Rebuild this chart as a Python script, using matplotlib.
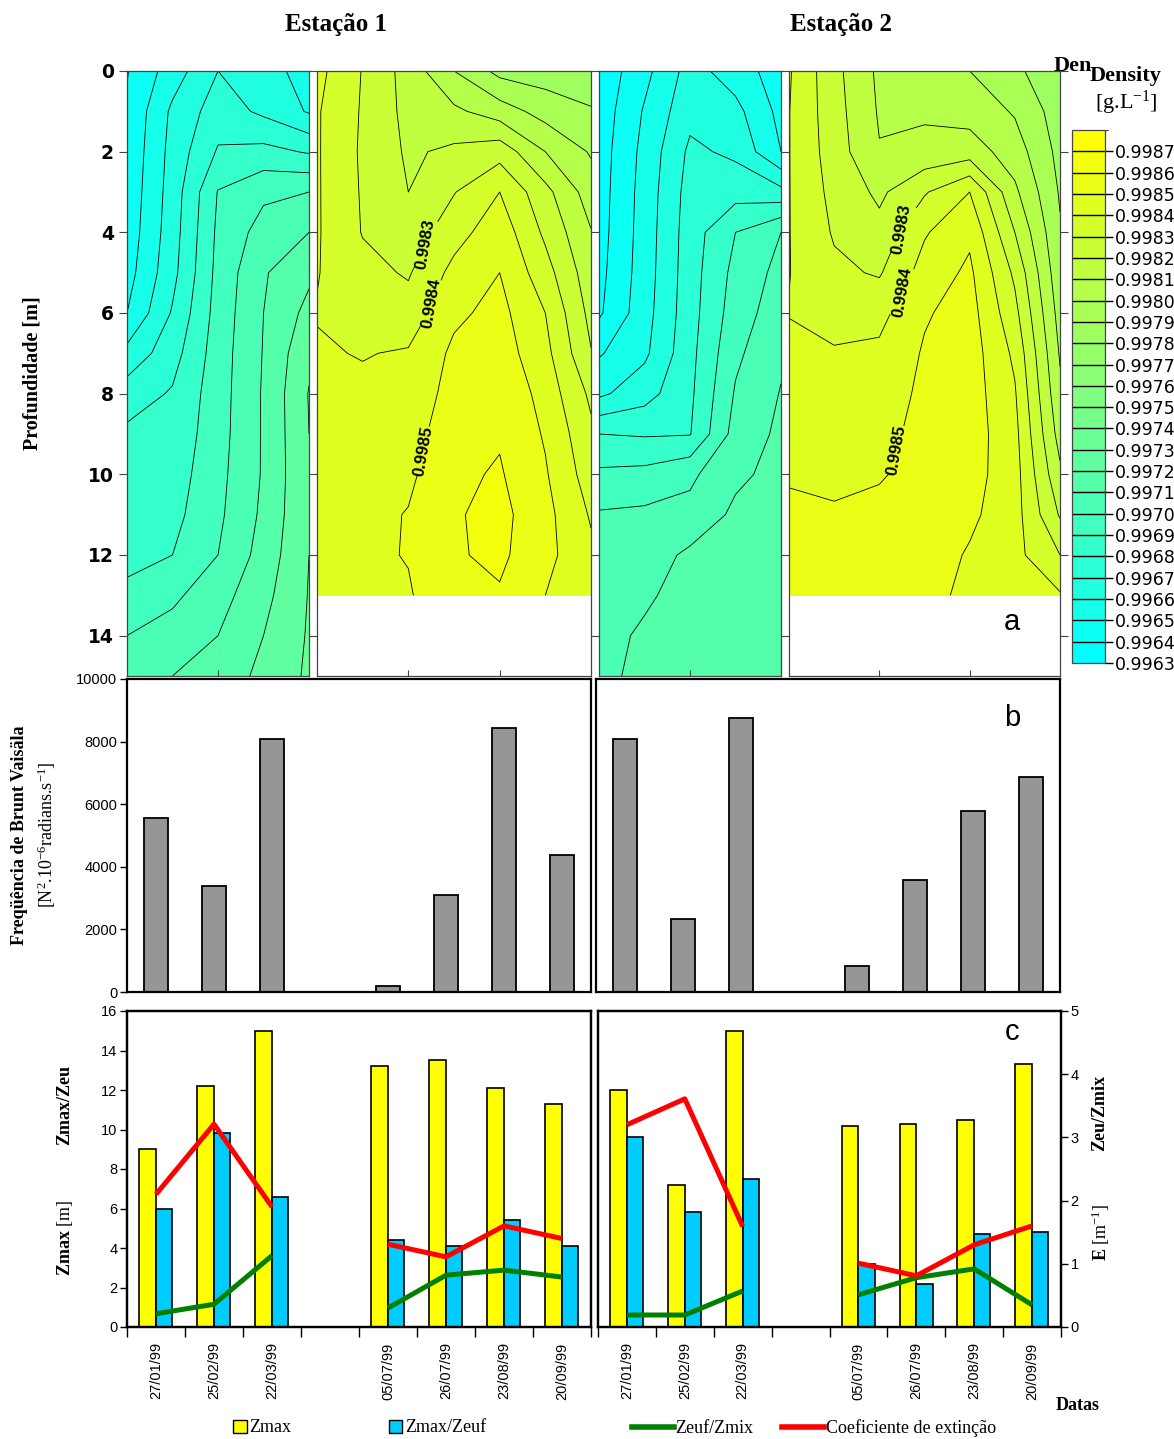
import numpy as np
import matplotlib
matplotlib.use("Agg")
import matplotlib.pyplot as plt
from matplotlib.colors import ListedColormap, BoundaryNorm
from matplotlib.cm import ScalarMappable
from matplotlib.patches import Patch
from matplotlib.lines import Line2D

plt.rcParams["font.family"] = ["Liberation Sans", "DejaVu Sans"]
plt.rcParams["mathtext.fontset"] = "custom"
plt.rcParams["mathtext.rm"] = "Liberation Serif"
plt.rcParams["mathtext.it"] = "Liberation Serif:italic"
plt.rcParams["mathtext.bf"] = "Liberation Serif:bold"
SERIF = "Liberation Serif"

# ---------------- data ----------------
dates = ["27/01/99", "25/02/99", "22/03/99", "05/07/99", "26/07/99", "23/08/99", "20/09/99"]
slots = [0, 1, 2, 4, 5, 6, 7]          # slot 3 stays empty between the two campaigns

# b) Brunt-Vaisala frequency [N^2.10^-6 radians.s^-1]
bv_e1 = [5570, 3400, 8080, 200, 3100, 8440, 4390]
bv_e2 = [8080, 2340, 8750, 840, 3590, 5790, 6870]

# c) bars on the 0-16 axis, lines on the 0-5 axis
zmax_e1 = [9.0, 12.2, 15.0, 13.2, 13.5, 12.1, 11.3]
zmax_zeuf_e1 = [6.0, 9.8, 6.6, 4.4, 4.1, 5.4, 4.1]
zeuf_zmix_e1 = [0.21, 0.36, 1.13, 0.30, 0.82, 0.90, 0.79]
extinction_e1 = [2.10, 3.21, 1.90, 1.31, 1.11, 1.60, 1.40]

zmax_e2 = [12.0, 7.2, 15.0, 10.2, 10.3, 10.5, 13.3]
zmax_zeuf_e2 = [9.6, 5.8, 7.5, 3.2, 2.2, 4.7, 4.8]
zeuf_zmix_e2 = [0.19, 0.19, 0.57, 0.51, 0.78, 0.92, 0.35]
extinction_e2 = [3.20, 3.61, 1.59, 1.01, 0.81, 1.30, 1.60]

# a) density sections, stored as (density - 0.996) * 1e4
# one list per column (sampling position in date units), values from surface down
DENS_BASE = 0.996
DENS_STEP = 1e-4
x_jan_mar = [0, 0.5, 1, 1.5, 2]
x_jul_sep = [0, 0.5, 1, 1.5, 2, 2.5, 3]
depth_jan_mar = list(range(0, 16))
depth_jul_sep = list(range(0, 14))

dens_e1_jan_mar = [
    [3.95, 4.1, 4.2, 4.3, 4.4, 4.6, 5.0, 6.3, 7.5, 8.2, 8.35, 8.5, 8.75, 9.2, 10.0, 10.4],
    [5.5, 6.2, 6.35, 6.45, 6.55, 6.7, 7.1, 7.6, 8.1, 8.3, 8.5, 8.7, 9.0, 9.8, 10.4, 11.0],
    [7.0, 7.5, 8.1, 9.05, 9.2, 9.3, 9.4, 9.5, 9.55, 9.6, 9.7, 9.8, 10.0, 10.6, 11.0, 11.3],
    [6.5, 6.8, 8.3, 9.8, 10.4, 10.9, 11.0, 11.05, 11.1, 11.1, 11.1, 11.2, 11.4, 11.7, 12.0, 12.3],
    [5.5, 5.9, 7.9, 10.0, 11.0, 11.8, 12.3, 12.8, 13.05, 13.0, 12.95, 12.95, 13.0, 13.05, 13.1, 13.15],
]
dens_e1_jul_sep = [
    [24.3, 24.1, 24.1, 24.1, 24.1, 24.05, 23.95, 24.1, 24.3, 24.4, 24.5, 24.6, 24.7, 24.7],
    [22.95, 22.9, 22.85, 22.9, 22.95, 23.3, 23.6, 23.95, 24.2, 24.3, 24.5, 24.7, 24.8, 24.8],
    [21.6, 21.7, 21.85, 22.0, 22.4, 22.9, 23.4, 24.1, 24.3, 24.5, 24.8, 25.05, 25.05, 24.9],
    [20.0, 21.2, 22.2, 22.95, 23.6, 24.3, 24.8, 25.2, 25.4, 25.7, 25.8, 25.9, 25.9, 25.8],
    [18.7, 20.5, 22.6, 24.0, 24.6, 25.0, 25.3, 25.5, 25.9, 25.9, 26.1, 26.3, 26.2, 25.9],
    [18.5, 19.6, 21.0, 22.3, 22.8, 23.4, 24.0, 24.3, 24.6, 24.9, 25.1, 25.3, 25.3, 25.0],
    [18.3, 19.1, 19.9, 20.5, 21.05, 21.4, 21.7, 22.05, 22.8, 23.2, 23.5, 23.9, 24.2, 24.3],
]
dens_e2_jan_mar = [
    [3.3, 3.4, 3.5, 3.55, 3.6, 3.7, 3.85, 4.9, 5.8, 8.0, 9.2, 10.1, 10.4, 10.5, 10.55, 10.6],
    [4.7, 5.1, 5.3, 5.4, 5.45, 5.5, 5.6, 5.8, 6.6, 7.9, 9.3, 10.2, 10.5, 10.8, 11.2, 11.4],
    [6.4, 6.7, 7.2, 7.4, 7.5, 7.55, 7.6, 7.7, 7.8, 7.95, 9.8, 10.3, 11.2, 11.5, 11.7, 11.8],
    [5.5, 6.3, 6.8, 7.6, 9.0, 9.3, 9.5, 9.8, 10.1, 10.4, 10.8, 11.2, 11.4, 11.5, 11.6, 11.7],
    [4.5, 4.7, 5.0, 7.3, 10.0, 10.3, 10.55, 10.85, 11.05, 11.2, 11.3, 11.4, 11.5, 11.6, 11.7, 11.8],
]
dens_e2_jul_sep = [
    [24.1, 24.03, 24.03, 24.03, 24.03, 24.03, 23.97, 24.2, 24.4, 24.6, 24.9, 25.2, 25.3, 25.3],
    [22.3, 22.4, 22.5, 22.7, 22.9, 23.2, 23.6, 24.1, 24.3, 24.5, 24.8, 25.1, 25.2, 25.2],
    [20.8, 20.9, 21.05, 21.8, 22.3, 22.9, 23.7, 24.2, 24.5, 24.7, 24.9, 25.3, 25.5, 25.5],
    [20.7, 20.85, 21.3, 22.9, 23.9, 24.4, 24.9, 25.1, 25.2, 25.3, 25.4, 25.5, 25.5, 25.4],
    [20.0, 20.6, 21.5, 24.0, 24.8, 25.2, 25.4, 25.5, 25.5, 25.5, 25.4, 25.2, 24.9, 24.7],
    [19.2, 19.9, 20.5, 21.2, 22.0, 22.8, 23.3, 23.8, 24.1, 24.3, 24.4, 24.4, 24.3, 24.2],
    [18.3, 18.5, 18.7, 18.9, 19.1, 19.3, 19.6, 19.9, 20.2, 20.6, 21.2, 21.9, 23.0, 24.1],
]

# ---------------- layout helpers ----------------
W, H = 1174, 1439
fig = plt.figure(figsize=(W / 100, H / 100), dpi=100)


def box(x0, y0, x1, y1):
    return [x0 / W, 1 - y1 / H, (x1 - x0) / W, (y1 - y0) / H]


def ftext(x, y, s, **kw):
    return fig.text(x / W, 1 - y / H, s, **kw)


def frame(ax, lw=1.5, color="black"):
    for sp in ax.spines.values():
        sp.set_linewidth(lw)
        sp.set_color(color)


def fmt_density(v):
    return f"{DENS_BASE + v * DENS_STEP:.4f}"


# 25 colour classes from cyan to yellow, 0.9963 .. 0.9988
levels = np.arange(3, 29)
labelled = [23, 24, 25]
band_colors = [(t, 1.0, 1.0 - t) for t in np.linspace(0, 1, len(levels) - 1)]
cmap = ListedColormap(band_colors)
norm = BoundaryNorm(levels, cmap.N)


def density_panel(rect, xs, depths, cols, inner_ticks, first=False, labels=None):
    ax = fig.add_axes(rect)
    X, Z = np.meshgrid(xs, depths)
    G = np.array(cols).T
    ax.contourf(X, Z, G, levels=levels, cmap=cmap, norm=norm)
    if labels:
        plain = [v for v in levels if v not in labelled]
        ax.contour(X, Z, G, levels=plain, colors="black", linewidths=0.6)
        cs = ax.contour(X, Z, G, levels=labelled, colors="black", linewidths=0.6)
        txt = ax.clabel(cs, manual=labels, inline=True, fmt=fmt_density,
                        fontsize=12, inline_spacing=3)
        for t in txt:
            t.set_fontweight("bold")
            t.set_rotation(80)
    else:
        ax.contour(X, Z, G, levels=levels, colors="black", linewidths=0.6)
    ax.set_xlim(xs[0], xs[-1])
    ax.set_ylim(15, 0)
    ax.set_yticks(range(0, 15, 2))
    ax.set_xticks(inner_ticks)
    ax.set_xticklabels([])
    ax.tick_params(axis="x", direction="in", length=4, color="#444444")
    ax.tick_params(axis="y", direction="out", length=6, color="#444444",
                   left=first, right=True, labelleft=first, labelright=False)
    if first:
        for lab in ax.get_yticklabels():
            lab.set_fontfamily("DejaVu Sans")
            lab.set_fontweight("bold")
            lab.set_fontsize(13.5)
    frame(ax, lw=0.9, color="#444444")
    return ax


# ---------------- a) density sections ----------------
top, bottom = 71, 676
density_panel(box(127, top, 309, bottom), x_jan_mar, depth_jan_mar, dens_e1_jan_mar, [1], first=True)
density_panel(box(317, top, 591, bottom), x_jul_sep, depth_jul_sep, dens_e1_jul_sep, [1, 2],
              labels=[(1.2, 4.3), (1.3, 5.8), (1.12, 9.4)])
density_panel(box(599, top, 781, bottom), x_jan_mar, depth_jan_mar, dens_e2_jan_mar, [1])
density_panel(box(789, top, 1060, bottom), x_jul_sep, depth_jul_sep, dens_e2_jul_sep, [1, 2],
              labels=[(1.23, 3.9), (1.28, 5.5), (1.2, 9.4)])

cax = fig.add_axes(box(1072, 130, 1105, 663))
cb = fig.colorbar(ScalarMappable(norm=norm, cmap=cmap), cax=cax, boundaries=levels,
                  ticks=levels[:-1], drawedges=True)
cb.ax.set_yticklabels([fmt_density(v) for v in levels[:-1]], fontfamily="DejaVu Sans", fontsize=12.5)
cb.ax.tick_params(length=6, width=1, pad=1)
cb.outline.set_linewidth(0.9)
cb.outline.set_edgecolor("#444444")
cb.dividers.set_linewidth(1.0)

ftext(1073, 66, "Den", fontfamily=SERIF, fontweight="bold", fontsize=16, ha="center", va="center")
ftext(1126, 76, "Density", fontfamily=SERIF, fontweight="bold", fontsize=16, ha="center", va="center")
ftext(1126, 103, "[g.L$^{-1}$]", fontfamily=SERIF, fontsize=16, ha="center", va="center")
ftext(1012, 622, "a", fontsize=21, ha="center", va="center")

ftext(336, 24, "Estação 1", fontfamily=SERIF, fontweight="bold", fontsize=18, ha="center", va="center")
ftext(841, 24, "Estação 2", fontfamily=SERIF, fontweight="bold", fontsize=18, ha="center", va="center")
ftext(33, 373, "Profundidade [m]", fontfamily=SERIF, fontweight="bold", fontsize=14.5, rotation=90,
      ha="center", va="center")

# ---------------- b) Brunt-Vaisala ----------------
pos = np.array(slots) + 0.5
for i, (rect, vals) in enumerate([(box(127, 679, 591, 992), bv_e1), (box(596, 679, 1060, 992), bv_e2)]):
    ax = fig.add_axes(rect)
    ax.bar(pos, vals, width=0.41, color="#969696", edgecolor="black", linewidth=1.3)
    ax.set_xlim(0, 8)
    ax.set_ylim(0, 10000)
    ax.set_xticks([])
    if i == 0:
        ax.set_yticks(range(0, 10001, 2000))
        ax.tick_params(axis="y", length=5, width=1, labelsize=10.5, pad=2)
    else:
        ax.set_yticks([])
    frame(ax, lw=1.6)

ftext(1012, 718, "b", fontsize=21, ha="center", va="center")
ftext(20, 835, "Freqüência de Brunt Vaisäla", fontfamily=SERIF, fontweight="bold", fontsize=13,
      rotation=90, ha="center", va="center")
ftext(47, 835, "[N$^{2}$.10$^{-6}$radians.s$^{-1}$]", fontfamily=SERIF, fontsize=13,
      rotation=90, ha="center", va="center")

# ---------------- c) Zmax, Zmax/Zeuf, Zeuf/Zmix, extinction ----------------
YELLOW = "#ffff00"
CYAN = "#00ccff"
GREEN = "#008000"
RED = "#ff0000"


def on_slots(vals):
    y = np.full(8, np.nan)
    y[slots] = vals
    return y


panel_c = [
    (box(127, 1011, 591, 1327), zmax_e1, zmax_zeuf_e1, zeuf_zmix_e1, extinction_e1),
    (box(598, 1011, 1061, 1327), zmax_e2, zmax_zeuf_e2, zeuf_zmix_e2, extinction_e2),
]
for i, (rect, zmax, ratio, zeuf_zmix, ext) in enumerate(panel_c):
    ax = fig.add_axes(rect)
    ax.bar(pos - 0.145, zmax, width=0.29, color=YELLOW, edgecolor="black", linewidth=1.2)
    ax.bar(pos + 0.14, ratio, width=0.28, color=CYAN, edgecolor="black", linewidth=1.2)
    ax.set_xlim(0, 8)
    ax.set_ylim(0, 16)
    ax.set_xticks(range(9))
    ax.set_xticklabels([])
    ax.set_xticks(pos, minor=True)
    ax.set_xticklabels(dates, minor=True, rotation=90, fontsize=10.5)
    ax.tick_params(axis="x", which="major", direction="out", length=7, width=1)
    ax.tick_params(axis="x", which="minor", length=0, pad=11)
    if i == 0:
        ax.set_yticks(range(0, 17, 2))
        ax.tick_params(axis="y", length=5, width=1, labelsize=10.5, pad=2)
    else:
        ax.set_yticks([])
    frame(ax, lw=1.6)

    tw = ax.twinx()
    tw.set_ylim(0, 5)
    tw.plot(np.arange(8) + 0.5, on_slots(zeuf_zmix), color=GREEN, lw=3.6, solid_capstyle="butt")
    tw.plot(np.arange(8) + 0.5, on_slots(ext), color=RED, lw=3.6, solid_capstyle="butt")
    if i == 1:
        tw.set_yticks(range(6))
        tw.tick_params(axis="y", length=5, width=1, labelsize=10.5, pad=2)
    else:
        tw.set_yticks([])
    frame(tw, lw=1.6)

ftext(1012, 1032, "c", fontsize=21, ha="center", va="center")
ftext(65, 1105, "Zmax/Zeu", fontfamily=SERIF, fontweight="bold", fontsize=13, rotation=90,
      ha="center", va="center")
ftext(65, 1238, r"$\mathbf{Zmax}$ [m]", fontfamily=SERIF, fontsize=13, rotation=90,
      ha="center", va="center")
ftext(1100, 1113, "Zeu/Zmix", fontfamily=SERIF, fontweight="bold", fontsize=13, rotation=90,
      ha="center", va="center")
ftext(1101, 1232, r"$\mathbf{E}$ [m$^{-1}$]", fontfamily=SERIF, fontsize=13, rotation=90,
      ha="center", va="center")
ftext(1078, 1406, "Datas", fontfamily=SERIF, fontweight="bold", fontsize=13, ha="center", va="center")

# legends
bar_handles = [Patch(facecolor=YELLOW, edgecolor="black", label="Zmax"),
               Patch(facecolor=CYAN, edgecolor="black", label="Zmax/Zeuf")]
line_handles = [Line2D([], [], color=GREEN, lw=4, label="Zeuf/Zmix"),
                Line2D([], [], color=RED, lw=4, label="Coeficiente de extinção")]
fig.legend(handles=bar_handles, loc="center left", bbox_to_anchor=(233 / W, 1 - 1428 / H),
           ncol=2, frameon=False, prop={"family": SERIF, "size": 13}, handlelength=0.75,
           handleheight=0.75, handletextpad=0.15, columnspacing=5.4, borderpad=0, borderaxespad=0)
fig.legend(handles=line_handles, loc="center left", bbox_to_anchor=(632 / W, 1 - 1428 / H),
           ncol=2, frameon=False, prop={"family": SERIF, "size": 13}, handlelength=2.3,
           handletextpad=0.1, columnspacing=1.6, borderpad=0, borderaxespad=0)

fig.savefig("out.png", dpi=100)
